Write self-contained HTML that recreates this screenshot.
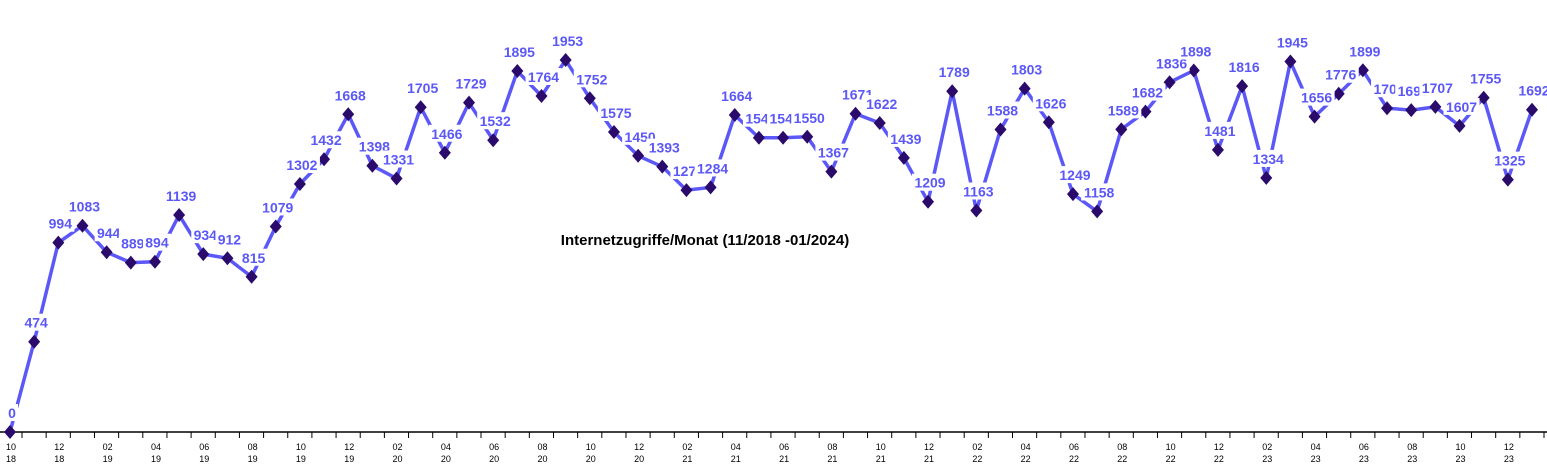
<!DOCTYPE html>
<html><head><meta charset="utf-8"><style>
html,body{margin:0;padding:0;background:#fff;width:1547px;height:472px;overflow:hidden}
svg{display:block;font-family:"Liberation Sans",Arial,sans-serif}
</style></head><body>
<svg id="chart" width="1547" height="472">
<text x="705" y="245" text-anchor="middle" font-size="15" font-weight="bold" fill="#000">Internetzugriffe/Monat (11/2018 -01/2024)</text>
</svg>
<script>
const months = ["10/18","11/18","12/18","01/19","02/19","03/19","04/19","05/19","06/19","07/19","08/19","09/19","10/19","11/19","12/19","01/20","02/20","03/20","04/20","05/20","06/20","07/20","08/20","09/20","10/20","11/20","12/20","01/21","02/21","03/21","04/21","05/21","06/21","07/21","08/21","09/21","10/21","11/21","12/21","01/22","02/22","03/22","04/22","05/22","06/22","07/22","08/22","09/22","10/22","11/22","12/22","01/23","02/23","03/23","04/23","05/23","06/23","07/23","08/23","09/23","10/23","11/23","12/23","01/24"];
const values = [0,474,994,1083,944,889,894,1139,934,912,815,1079,1302,1432,1668,1398,1331,1705,1466,1729,1532,1895,1764,1953,1752,1575,1450,1393,1270,1284,1664,1545,1545,1550,1367,1671,1622,1439,1209,1789,1163,1588,1803,1626,1249,1158,1589,1682,1836,1898,1481,1816,1334,1945,1656,1776,1899,1700,1690,1707,1607,1755,1325,1692];
const ns="http://www.w3.org/2000/svg";
const svg=document.getElementById('chart');
const x0=10, dx=(1532-10)/63, yBase=432, yScale=(432-60)/1953;
function xPos(i){return x0+i*dx;}
function yPos(v){return yBase-v*yScale;}
function mk(t,attrs){const e=document.createElementNS(ns,t);for(const k in attrs)e.setAttribute(k,attrs[k]);svg.appendChild(e);return e;}
const ax=mk('line',{x1:0,y1:yBase,x2:1547,y2:yBase,stroke:'#000','stroke-width':1.5});


for(let i=0;i<months.length;i++){
  const tk=mk('line',{x1:xPos(i)+12,y1:yBase,x2:xPos(i)+12,y2:yBase+6,stroke:'#000','stroke-width':1});
  
  
  if(i%2===0){
    const p=months[i].split('/');
    const t=mk('text',{x:xPos(i)+1,y:yBase+18,'text-anchor':'middle','font-size':9,fill:'#000'});
    
    
    const a=document.createElementNS(ns,'tspan');a.setAttribute('x',xPos(i)+1);a.textContent=p[0];t.appendChild(a);
    const b=document.createElementNS(ns,'tspan');b.setAttribute('x',xPos(i)+1);b.setAttribute('dy',12);b.textContent=p[1];t.appendChild(b);
  }
}
const pts=values.map((v,i)=>xPos(i)+','+yPos(v)).join(' ');
const line=mk('polyline',{points:pts,fill:'none',stroke:'#5c58f8','stroke-width':3.5,'stroke-linejoin':'round'});


values.forEach((v,i)=>{
  const x=xPos(i),y=yPos(v);
  const m=mk('polygon',{points:`${x},${y-7} ${x+6},${y} ${x},${y+7} ${x-6},${y}`,fill:'#2a0a6a'});
  
  
});
values.forEach((v,i)=>{
  const x=xPos(i)+2,y=yPos(v);
  const w=String(v).length*8+4;
  const r=mk('rect',{x:x-w/2,y:y-28,width:w,height:17,fill:'#fff'});
  
  
  const t=mk('text',{x:x,y:y-14,'text-anchor':'middle','font-size':14,'font-weight':'bold',fill:'#5c58f8'});
  
  
  t.textContent=v;
});
</script>
</body></html>
